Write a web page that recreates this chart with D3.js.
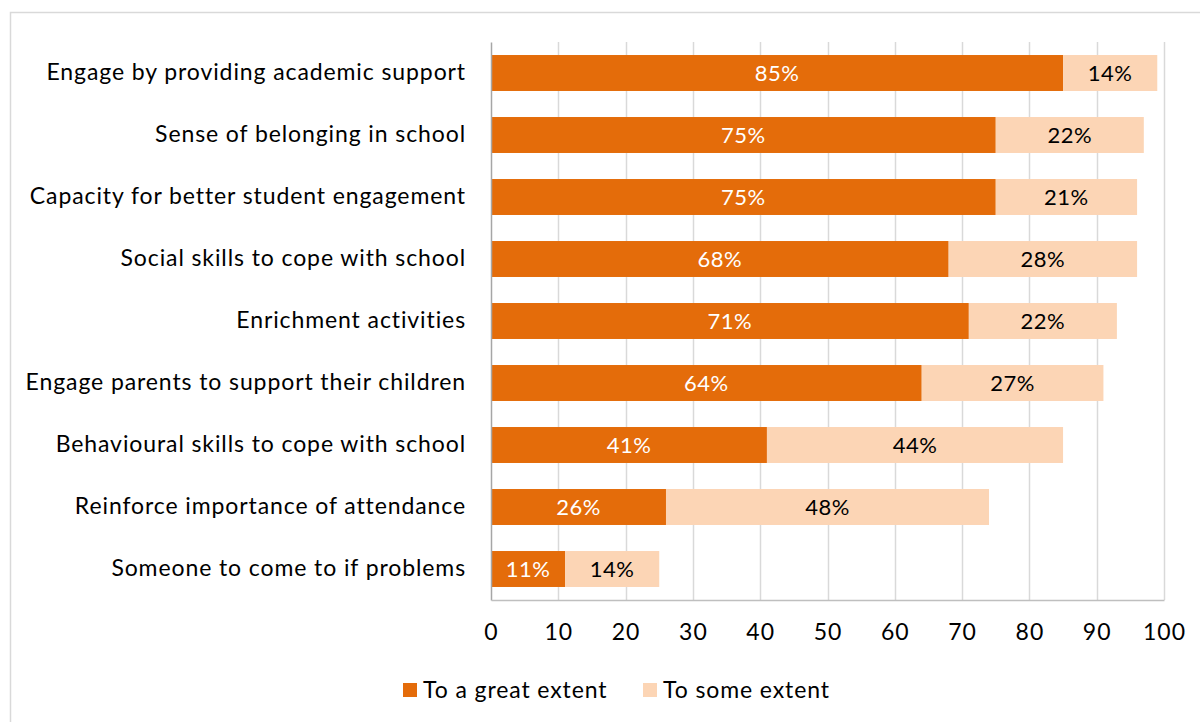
<!DOCTYPE html>
<html>
<head>
<meta charset="utf-8">
<script src="https://cdn.jsdelivr.net/npm/d3@7"></script>
<style>
  html, body { margin: 0; padding: 0; background: #fff; }
  svg { display: block; font-family: Lato, "Liberation Sans", sans-serif; }
</style>
</head>
<body>
<svg id="chart" width="1200" height="722"></svg>
<script>
// Survey items, top to bottom
const categories = [
  "Engage by providing academic support",
  "Sense of belonging in school",
  "Capacity for better student engagement",
  "Social skills to cope with school",
  "Enrichment activities",
  "Engage parents to support their children",
  "Behavioural skills to cope with school",
  "Reinforce importance of attendance",
  "Someone to come to if problems"
];
// Percent of respondents per answer
const greatExtent = [85, 75, 75, 68, 71, 64, 41, 26, 11];
const someExtent  = [14, 22, 21, 28, 22, 27, 44, 48, 14];
const seriesNames = ["To a great extent", "To some extent"];
const xTicks = [0, 10, 20, 30, 40, 50, 60, 70, 80, 90, 100];

const colors = ["#E46C0A", "#FCD5B5"];
const labelColors = ["#ffffff", "#000000"];

const svg = d3.select("#chart");

// Outer chart frame
svg.append("rect")
  .attr("x", 10.5).attr("y", 12.5)
  .attr("width", 1200).attr("height", 722)
  .attr("fill", "none").attr("stroke", "#D9D9D9").attr("stroke-width", 1.5);

const x = d3.scaleLinear().domain([0, 100]).range([491, 1164]);
const y = d3.scaleBand().domain(categories).range([42, 600]).paddingInner(0.42).paddingOuter(0.21);

// Vertical gridlines
svg.append("g")
  .selectAll("line")
  .data(xTicks.filter(t => t > 0))
  .join("line")
  .attr("x1", d => Math.round(x(d)) + 0.5).attr("x2", d => Math.round(x(d)) + 0.5)
  .attr("y1", 42).attr("y2", 600)
  .attr("stroke", "#D9D9D9").attr("stroke-width", 1.5);

// Stacked data
const rows = categories.map((c, i) => ({ cat: c, vals: [greatExtent[i], someExtent[i]] }));
const stackData = rows.map(r => {
  let acc = 0;
  return r.vals.map((v, k) => { const s = { cat: r.cat, k, v, x0: acc, x1: acc + v }; acc += v; return s; });
}).flat();

const barG = svg.append("g");
barG.selectAll("rect")
  .data(stackData)
  .join("rect")
  .attr("x", d => x(d.x0))
  .attr("y", d => y(d.cat))
  .attr("width", d => x(d.x1) - x(d.x0))
  .attr("height", y.bandwidth())
  .attr("fill", d => colors[d.k]);

barG.selectAll("text")
  .data(stackData)
  .join("text")
  .attr("x", d => (x(d.x0) + x(d.x1)) / 2)
  .attr("y", d => y(d.cat) + y.bandwidth() / 2)
  .attr("dy", "0.36em")
  .attr("text-anchor", "middle")
  .attr("font-size", 22)
  .attr("letter-spacing", 0.5)
  .attr("fill", d => labelColors[d.k])
  .text(d => d.v + "%");

// Category axis
const yAxis = svg.append("g")
  .attr("transform", `translate(${x(0)},0)`)
  .call(d3.axisLeft(y).tickSize(0).tickPadding(25));
yAxis.select(".domain").attr("stroke", "#A6A6A6").attr("stroke-width", 1.5);
yAxis.selectAll("text").attr("font-size", 23).attr("letter-spacing", 0.9)
  .attr("fill", "#000").attr("font-family", "Lato, sans-serif");

// Value axis
const xAxis = svg.append("g")
  .attr("transform", "translate(0,600)")
  .call(d3.axisBottom(x).tickValues(xTicks).tickSize(0).tickPadding(24));
xAxis.select(".domain").attr("stroke", "#BFBFBF").attr("stroke-width", 1.5);
xAxis.selectAll("text").attr("font-size", 23).attr("letter-spacing", 1)
  .attr("fill", "#000").attr("font-family", "Lato, sans-serif");

// Legend
const legendX = [403, 643];
const legend = svg.append("g");
seriesNames.forEach((name, i) => {
  legend.append("rect")
    .attr("x", legendX[i]).attr("y", 683)
    .attr("width", 14).attr("height", 14)
    .attr("fill", colors[i]);
  legend.append("text")
    .attr("x", legendX[i] + 20).attr("y", 690)
    .attr("dy", "0.36em")
    .attr("font-size", 23)
    .attr("letter-spacing", 0.9)
    .attr("fill", "#000")
    .text(name);
});
</script>
</body>
</html>
